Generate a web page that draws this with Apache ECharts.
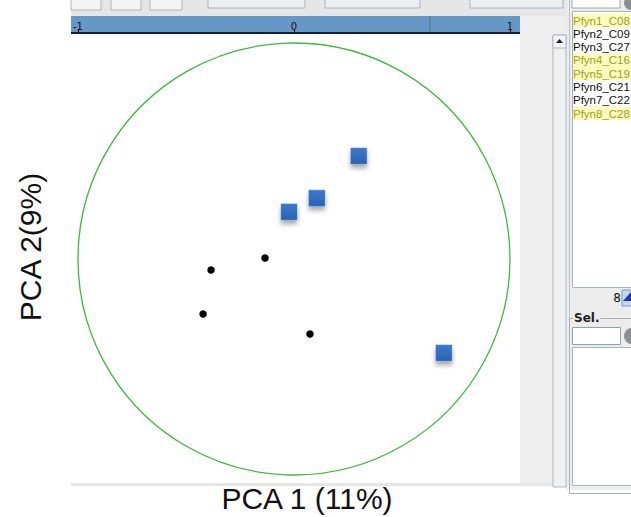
<!DOCTYPE html>
<html>
<head>
<meta charset="utf-8">
<script src="https://cdn.jsdelivr.net/npm/echarts@6/dist/echarts.min.js"></script>
<style>
html,body{margin:0;padding:0;background:#fff;}
#chart{width:631px;height:517px;}
</style>
</head>
<body>
<div id="chart"></div>
<script>
// ---- data ----
const axisTicks = [-1, 0, 1];
const xTitle = 'PCA 1 (11%)';
const yTitle = 'PCA 2(9%)';
const groupAPC1 = [0.300, 0.106, -0.023, 0.694];   // blue squares
const groupAPC2 = [0.477, 0.282, 0.218, -0.435];
const groupBPC1 = [-0.384, -0.134, -0.421, 0.074]; // black dots
const groupBPC2 = [-0.051, 0.005, -0.255, -0.347];
const circleCenter = [0, 0];
const circleRadius = [1];
const sampleNames = ['Pfyn1_C08','Pfyn2_C09','Pfyn3_C27','Pfyn4_C16','Pfyn5_C19','Pfyn6_C21','Pfyn7_C22','Pfyn8_C28'];
const sampleHighlighted = [true,false,false,true,true,false,false,true];
const sampleCount = '8';
const selLabel = 'Sel.';

// ---- build ----
const chart = echarts.init(document.getElementById('chart'), null, {renderer: 'svg'});

const uiFont = 'DejaVu Sans';
const listFont = 'Liberation Sans';
const graphics = [];
// top toolbar strip
graphics.push({type:'rect', z:-20, shape:{x:71,y:0,width:499,height:16}, style:{fill:'#e6e6e6'}});
[[71,30],[111,30],[150,32]].forEach(b=>graphics.push({type:'rect', z:-19, shape:{x:b[0],y:-4,width:b[1],height:14}, style:{fill:'#f4f4f4', stroke:'#b4b4b4', lineWidth:1}}));
[[208,97],[325,95],[470,93]].forEach(b=>graphics.push({type:'rect', z:-19, shape:{x:b[0],y:-4,width:b[1],height:12}, style:{fill:'#eceef1', stroke:'#a9b5c4', lineWidth:1}}));
// grey area right of plot
graphics.push({type:'rect', z:-20, shape:{x:520,y:16,width:50,height:470}, style:{fill:'#eeeeee'}});
// blue ruler bar
graphics.push({type:'rect', z:-15, shape:{x:71,y:16,width:449,height:17}, style:{fill:'#6597c7'}});
graphics.push({type:'line', z:-14, shape:{x1:430,y1:16,x2:430,y2:33}, style:{stroke:'#56786e', lineWidth:1}});
graphics.push({type:'line', z:-14, shape:{x1:71,y1:33,x2:520,y2:33}, style:{stroke:'#18202c', lineWidth:2}});
// bottom divider
graphics.push({type:'rect', z:-20, shape:{x:71,y:483,width:482,height:3}, style:{fill:'#e6e6e6'}});
// scrollbar
graphics.push({type:'rect', z:-18, shape:{x:553,y:35,width:13,height:452}, style:{fill:'#eef0f2', stroke:'#aab7c6', lineWidth:1}});
graphics.push({type:'rect', z:-17, shape:{x:553,y:35,width:13,height:13}, style:{fill:'#f4f5f7', stroke:'#aab7c6', lineWidth:1}});
graphics.push({type:'polygon', z:-16, shape:{points:[[556,43],[563,43],[559.5,39]]}, style:{fill:'#222'}});
// right panel
graphics.push({type:'rect', z:-20, shape:{x:566,y:0,width:65,height:490}, style:{fill:'#ececec'}});
graphics.push({type:'line', z:-18, shape:{x1:569.5,y1:0,x2:569.5,y2:490}, style:{stroke:'#b9c2cc', lineWidth:1}});
graphics.push({type:'rect', z:-17, shape:{x:572,y:-3,width:48,height:11}, style:{fill:'#fff', stroke:'#9aa8b8', lineWidth:1}});
graphics.push({type:'circle', z:-17, shape:{cx:631,cy:3,r:7}, style:{fill:'#8a8d92'}});
graphics.push({type:'rect', z:-17, shape:{x:572.5,y:11.5,width:62,height:276}, style:{fill:'#fff', stroke:'#a8b4c0', lineWidth:1}});
sampleNames.forEach((n,i)=>{
  const y = 13.5 + i*13.3;
  if (sampleHighlighted[i]) graphics.push({type:'rect', z:-16, shape:{x:573,y:y,width:58,height:13.3}, style:{fill:'#fffcbe'}});
  graphics.push({type:'text', z:-15, x:573, y:y+7, style:{text:n, font:'11.5px "'+listFont+'"', fill: sampleHighlighted[i] ? '#a0a020' : '#111', verticalAlign:'middle', align:'left'}});
});
graphics.push({type:'text', z:-15, x:621, y:298, style:{text:sampleCount, font:'12px "'+uiFont+'"', fill:'#111', align:'right', verticalAlign:'middle'}});
graphics.push({type:'rect', z:-15, shape:{x:622,y:290,width:12,height:16}, style:{fill:'#c8d8ee', stroke:'#7d98c0'}});
graphics.push({type:'polygon', z:-14, shape:{points:[[623,301],[631,292],[631,301]]}, style:{fill:'#2233cc'}});
// Sel. group
graphics.push({type:'rect', z:-17, shape:{x:569.5,y:318.5,width:70,height:175}, style:{fill:'none', stroke:'#b0b0b0', lineWidth:1}});
graphics.push({type:'text', z:-15, x:573, y:318, style:{text:selLabel, font:'bold 12px "'+uiFont+'"', fill:'#222', backgroundColor:'#ececec', padding:[0,1], verticalAlign:'middle'}});
graphics.push({type:'rect', z:-16, shape:{x:572.5,y:327.5,width:48,height:17}, style:{fill:'#fff', stroke:'#8fa0b5', lineWidth:1}});
graphics.push({type:'circle', z:-16, shape:{cx:632,cy:336,r:8}, style:{fill:'#8c8f94'}});
graphics.push({type:'rect', z:-16, shape:{x:572.5,y:347.5,width:62,height:138}, style:{fill:'#fff', stroke:'#a8b4c0', lineWidth:1}});
// axis titles
graphics.push({type:'text', x:307, y:498, style:{text:xTitle, font:'30px "Liberation Sans"', fill:'#111', align:'center', verticalAlign:'middle'}});
graphics.push({type:'text', x:30, y:247, rotation:Math.PI/2, style:{text:yTitle, font:'30px "Liberation Sans"', fill:'#111', align:'center', verticalAlign:'middle'}});

const squares = groupAPC1.map((v,i)=>[v, groupAPC2[i]]);
const dots = groupBPC1.map((v,i)=>[v, groupBPC2[i]]);

chart.setOption({
  animation: false,
  backgroundColor: '#ffffff',
  grid: {left: 78, top: 43, width: 432, height: 432, containLabel: false},
  xAxis: {
    type: 'value', position: 'top', offset: 10, min: axisTicks[0], max: axisTicks[axisTicks.length-1], interval: 1,
    axisLine: {show: false, onZero: false},
    axisTick: {show: true, length: 3, lineStyle: {color: '#111', width: 1}},
    axisLabel: {show: true, fontSize: 10, color: '#111', margin: 2, fontFamily: uiFont},
    splitLine: {show: false}
  },
  yAxis: {type: 'value', min: -1, max: 1, show: false},
  graphic: {elements: graphics},
  series: [
    {
      type: 'custom', silent: true, clip: false, z: 1,
      data: [[circleCenter[0], circleCenter[1], circleRadius[0]]],
      renderItem: function (params, api) {
        const c = api.coord([api.value(0), api.value(1)]);
        const r = api.size([api.value(2), 0])[0];
        return {type: 'circle', shape: {cx: c[0], cy: c[1], r: r}, style: {fill: 'none', stroke: '#3fb83f', lineWidth: 1.3}};
      }
    },
    {
      type: 'scatter', symbol: 'circle', symbolSize: 7.5, z: 3,
      data: dots,
      itemStyle: {color: '#000', opacity: 1}
    },
    {
      type: 'scatter', symbol: 'rect', symbolSize: 16, z: 4,
      data: squares,
      itemStyle: {
        opacity: 1,
        color: new echarts.graphic.LinearGradient(0,0,0,1,[{offset:0,color:'#3c7acb'},{offset:1,color:'#2a62b2'}]),
        borderColor: '#4f86cf', borderWidth: 0.5,
        shadowBlur: 5, shadowOffsetY: 4, shadowColor: 'rgba(0,0,0,0.35)'
      }
    }
  ]
});
</script>
</body>
</html>
